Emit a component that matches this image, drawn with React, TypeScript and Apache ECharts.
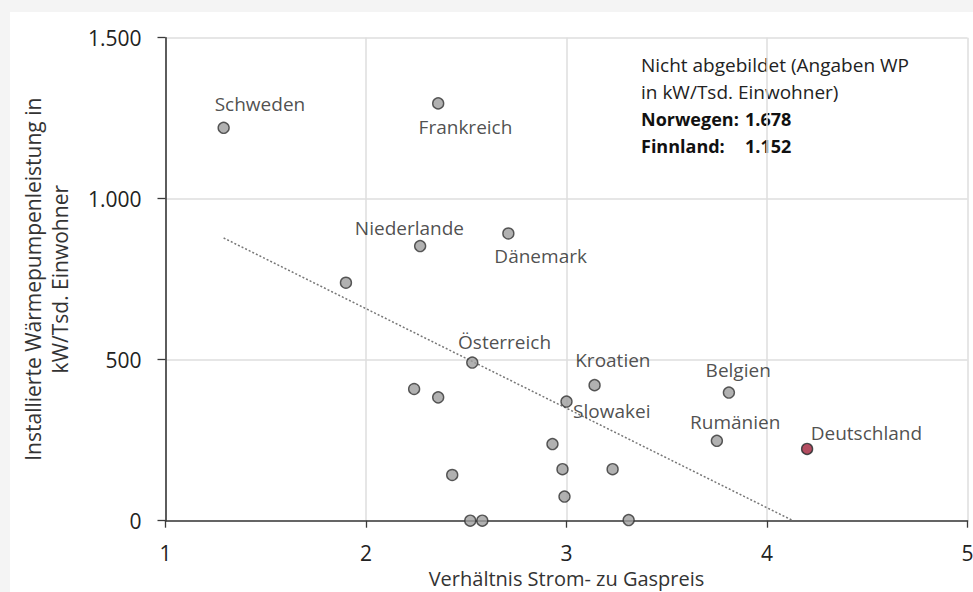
import React, { useEffect, useRef } from "react";
import * as echarts from "echarts";

const countries = [
  "Schweden", "Frankreich", "Niederlande", "Dänemark", "", "Österreich", "", "",
  "Kroatien", "Slowakei", "", "", "", "", "", "", "", "", "Belgien", "Rumänien",
];
const ratio = [
  1.29, 2.36, 2.27, 2.71, 1.9, 2.53, 2.24, 2.36,
  3.14, 3.0, 2.93, 2.98, 3.23, 2.43, 2.99, 2.52, 2.58, 3.31, 3.81, 3.75,
];
const power = [
  1220, 1296, 853, 892, 739, 491, 409, 383,
  421, 370, 238, 160, 160, 142, 75, 0, 0, 2, 398, 248,
];
const germany = { name: "Deutschland", x: 4.2, y: 223 };
const trendX = [1.29, 4.13];
const trendY = [878, 0];
const xTicks = [1, 2, 3, 4, 5];
const yTicks = [0, 500, 1000, 1500];
const noteLines = ["Nicht abgebildet (Angaben WP", "in kW/Tsd. Einwohner)"];
const noteKeys = ["Norwegen:", "Finnland:"];
const noteValues = ["1.678", "1.152"];

// label placement (pixel offsets of label centre from marker centre)
const labelOffsets: Record<string, [number, number]> = {
  Schweden: [37, -23],
  Frankreich: [28, 24],
  Niederlande: [-10, -17],
  "Dänemark": [33, 23],
  "Österreich": [33, -20],
  Kroatien: [19, -24],
  Slowakei: [46, 10],
  Belgien: [10, -22],
  "Rumänien": [19, -18],
  Deutschland: [60, -15],
};

const FONT = "Open Sans";
const SYM = 11;

function fmtThousands(v: number): string {
  return String(v).replace(/\B(?=(\d{3})+(?!\d))/g, ".");
}

function labelFor(name: string) {
  const off = labelOffsets[name];
  if (!name || !off) return { show: false };
  return {
    show: true,
    position: [SYM / 2 + off[0], SYM / 2 + off[1]],
    align: "center",
    verticalAlign: "middle",
  };
}

export default function App() {
  const ref = useRef<HTMLDivElement>(null);
  useEffect(() => {
    if (!ref.current) return;
    const chart = echarts.init(ref.current, null, { renderer: "svg" });

    const pts = ratio.map((x, i) => ({
      name: countries[i],
      value: [x, power[i]],
      label: labelFor(countries[i]),
    }));

    chart.setOption({
      animation: false,
      backgroundColor: "#f4f4f4",
      textStyle: { fontFamily: FONT },
      graphic: [
        {
          type: "rect",
          left: 10,
          top: 12,
          shape: { width: 963, height: 580 },
          style: { fill: "#ffffff" },
          z: -10,
        },
        {
          type: "text",
          left: 641,
          top: 51,
          style: {
            text: noteLines.join("\n"),
            font: `19px "${FONT}"`,
            fill: "#222",
            lineHeight: 27,
          },
        },
        {
          type: "text",
          left: 641,
          top: 105,
          style: {
            text: noteKeys.join("\n"),
            font: `bold 18px "${FONT}"`,
            fill: "#111",
            lineHeight: 27,
          },
        },
        {
          type: "text",
          left: 745,
          top: 105,
          style: {
            text: noteValues.join("\n"),
            font: `bold 18px "${FONT}"`,
            fill: "#111",
            lineHeight: 27,
          },
        },
      ],
      grid: {
        left: 165.5,
        right: 5.5,
        top: 37.7,
        bottom: 71.3,
        containLabel: false,
        outerBoundsMode: "none",
      },
      xAxis: {
        type: "value",
        min: xTicks[0],
        max: xTicks[xTicks.length - 1],
        interval: 1,
        name: "Verhältnis Strom- zu Gaspreis",
        nameLocation: "middle",
        nameGap: 48,
        nameMoveOverlap: false,
        nameTextStyle: { fontSize: 20, color: "#333", fontFamily: FONT, lineHeight: 20 },
        axisLine: { show: true, onZero: false, lineStyle: { color: "#3a3a3a", width: 1.6 } },
        axisTick: { show: true, length: 7, lineStyle: { color: "#3a3a3a", width: 1.3 } },
        axisLabel: { fontSize: 21, lineHeight: 21, color: "#222", margin: 22, fontFamily: FONT },
        splitLine: { show: true, lineStyle: { color: "#dedede", width: 1.5 } },
      },
      yAxis: {
        type: "value",
        min: yTicks[0],
        max: yTicks[yTicks.length - 1],
        interval: 500,
        name: "Installierte Wärmepumpenleistung in\nkW/Tsd. Einwohner",
        nameLocation: "middle",
        nameGap: 92,
        nameMoveOverlap: false,
        nameRotate: 90,
        nameTextStyle: { fontSize: 21, color: "#333", lineHeight: 27, fontFamily: FONT },
        axisLine: { show: true, lineStyle: { color: "#3a3a3a", width: 1.6 } },
        axisTick: { show: true, length: 8, lineStyle: { color: "#3a3a3a", width: 1.3 } },
        axisLabel: {
          fontSize: 21,
          color: "#222",
          margin: 24,
          fontFamily: FONT,
          formatter: (v: number) => fmtThousands(v),
        },
        splitLine: { show: true, lineStyle: { color: "#dedede", width: 1.5 } },
      },
      series: [
        {
          type: "line",
          data: trendX.map((x, i) => [x, trendY[i]]),
          symbol: "none",
          lineStyle: { color: "#777", width: 1.5, type: [2, 2] },
          z: 1,
          silent: true,
        },
        {
          type: "scatter",
          data: pts,
          symbol: "circle",
          symbolSize: SYM,
          itemStyle: { color: "#9e9e9e", borderColor: "#333", borderWidth: 1.4 },
          label: {
            formatter: "{b}",
            fontSize: 19,
            color: "#222",
            fontFamily: FONT,
          },
          z: 3,
        },
        {
          type: "scatter",
          data: [
            {
              name: germany.name,
              value: [germany.x, germany.y],
              label: labelFor(germany.name),
            },
          ],
          symbol: "circle",
          symbolSize: SYM,
          itemStyle: { color: "#a0203a", borderColor: "#1f2a2a", borderWidth: 1.4 },
          label: {
            formatter: "{b}",
            fontSize: 19,
            color: "#222",
            fontFamily: FONT,
          },
          z: 4,
        },
      ],
    });
    return () => chart.dispose();
  }, []);
  return (
    <div
      ref={ref}
      style={{ position: "fixed", left: 0, top: 0, width: 973, height: 592 }}
    />
  );
}
